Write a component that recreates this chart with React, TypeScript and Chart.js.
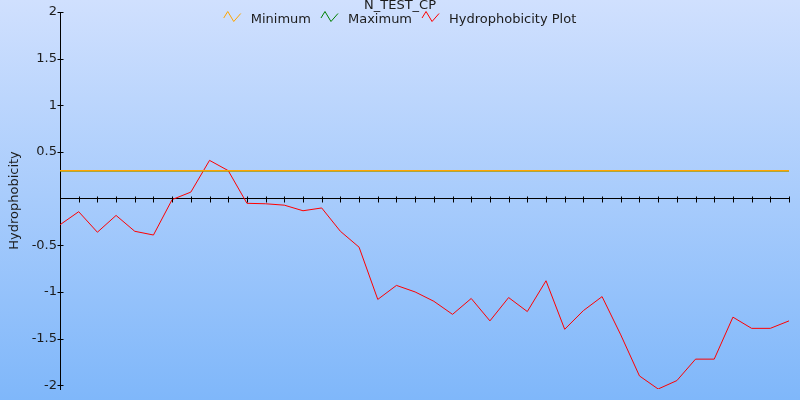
import React, { useEffect, useRef } from "react";
import { Chart, registerables } from "chart.js";

Chart.register(...registerables);

const chartTitle = "N_TEST_CP";
const yAxisTitle = "Hydrophobicity";

const categories = [
  "1", "2", "3", "4", "5", "6", "7", "8", "9", "10",
  "11", "12", "13", "14", "15", "16", "17", "18", "19", "20",
  "21", "22", "23", "24", "25", "26", "27", "28", "29", "30",
  "31", "32", "33", "34", "35", "36", "37", "38", "39", "40",
];

const hydrophobicity = [
  -0.28, -0.14, -0.36, -0.18, -0.35, -0.39, -0.01, 0.07, 0.41, 0.3,
  -0.05, -0.055, -0.07, -0.13, -0.1, -0.35, -0.52, -1.08, -0.93, -1.0,
  -1.1, -1.24, -1.07, -1.31, -1.06, -1.21, -0.88, -1.4, -1.2, -1.05,
  -1.46, -1.9, -2.04, -1.95, -1.72, -1.72, -1.27, -1.39, -1.39, -1.31,
];

const minimumValue = 0.3;
const maximumValue = 0.3;

const yTickValues = [-2, -1.5, -1, -0.5, 0.5, 1, 1.5, 2];
const yMin = -2.04;
const yMax = 2;

const TEXT_COLOR = "#1c1c1c";
const FONT_FAMILY = "'DejaVu Sans', Verdana, sans-serif";

const backgroundPlugin = {
  id: "gradientBackground",
  beforeDraw(chart: any) {
    const { ctx, width, height } = chart;
    const g = ctx.createLinearGradient(0, 0, 0, height);
    g.addColorStop(0, "#d0e0fe");
    g.addColorStop(1, "#7fb7fa");
    ctx.save();
    ctx.fillStyle = g;
    ctx.fillRect(0, 0, width, height);
    ctx.restore();
  },
};

const crossTicksPlugin = {
  id: "crossTicks",
  afterDraw(chart: any) {
    const { ctx } = chart;
    const xs = chart.scales.x;
    const ys = chart.scales.y;
    const half = 3;
    ctx.save();
    ctx.strokeStyle = "#000";
    ctx.lineWidth = 1;
    ctx.beginPath();
    const yZero = Math.round(ys.getPixelForValue(0)) + 0.5;
    for (let i = 0; i < xs.ticks.length; i++) {
      const px = Math.round(xs.getPixelForTick(i)) + 0.5;
      ctx.moveTo(px, yZero - half);
      ctx.lineTo(px, yZero + half);
    }
    const axisX = Math.round(ys.right) + 0.5;
    for (let i = 0; i < ys.ticks.length; i++) {
      const py = Math.round(ys.getPixelForTick(i)) + 0.5;
      ctx.moveTo(axisX - half, py);
      ctx.lineTo(axisX + half, py);
    }
    ctx.stroke();
    ctx.restore();
  },
};

const headerPlugin = {
  id: "headerLegend",
  afterDraw(chart: any) {
    const { ctx, width } = chart;
    ctx.save();
    ctx.font = `13px ${FONT_FAMILY}`;
    ctx.fillStyle = TEXT_COLOR;
    ctx.textBaseline = "alphabetic";
    ctx.textAlign = "center";
    ctx.fillText(chartTitle, width / 2, 9);

    const items = chart.data.datasets.map((ds: any) => ({
      label: ds.label as string,
      color: ds.borderColor as string,
    }));
    const iconW = 17;
    const gap = 10;
    const widths = items.map((it: any) => ctx.measureText(it.label).width);
    let total = 0;
    widths.forEach((w: number) => (total += iconW + gap + w));
    total += gap * (items.length - 1);
    let x = (width - total) / 2;
    const y0 = 11.5;
    ctx.textAlign = "left";
    items.forEach((it: any, i: number) => {
      ctx.strokeStyle = it.color;
      ctx.lineWidth = 1;
      ctx.beginPath();
      ctx.moveTo(x, y0 + 6.5);
      ctx.lineTo(x + 4, y0);
      ctx.lineTo(x + 10, y0 + 10);
      ctx.lineTo(x + iconW, y0 + 2);
      ctx.stroke();
      ctx.fillStyle = TEXT_COLOR;
      ctx.fillText(it.label, x + iconW + gap, 22.5);
      x += iconW + gap + widths[i] + gap;
    });
    ctx.restore();
  },
};

export default function App() {
  const canvasRef = useRef<HTMLCanvasElement | null>(null);

  useEffect(() => {
    if (!canvasRef.current) return;
    Chart.defaults.font.family = FONT_FAMILY;
    Chart.defaults.font.size = 13;
    Chart.defaults.color = TEXT_COLOR;

    const chart = new Chart(canvasRef.current, {
      type: "line",
      data: {
        labels: categories,
        datasets: [
          {
            label: "Minimum",
            data: categories.map(() => minimumValue),
            borderColor: "#ffa500",
            backgroundColor: "#ffa500",
            borderWidth: 1.5,
            pointRadius: 0,
            fill: false,
          },
          {
            label: "Maximum",
            data: categories.map(() => maximumValue),
            borderColor: "#008000",
            backgroundColor: "#008000",
            borderWidth: 1.5,
            pointRadius: 0,
            fill: false,
          },
          {
            label: "Hydrophobicity Plot",
            data: hydrophobicity,
            borderColor: "#ff0000",
            backgroundColor: "#ff0000",
            borderWidth: 1,
            pointRadius: 0,
            tension: 0,
            fill: false,
          },
        ],
      },
      options: {
        responsive: false,
        animation: false,
        devicePixelRatio: 1,
        layout: { padding: { top: 12, right: 11, bottom: 11, left: 0 } },
        plugins: {
          legend: { display: false },
          title: { display: false },
          tooltip: { enabled: false },
        },
        scales: {
          x: {
            type: "category",
            offset: false,
            position: { y: 0 } as any,
            ticks: { display: false },
            grid: { display: false, drawTicks: false },
            border: { display: true, color: "#000", width: 1 },
          },
          y: {
            type: "linear",
            min: yMin,
            max: yMax,
            afterBuildTicks: (scale: any) => {
              scale.ticks = yTickValues.map((v) => ({ value: v }));
            },
            afterFit: (scale: any) => {
              scale.width = 60;
            },
            ticks: {
              padding: 3,
              color: TEXT_COLOR,
              font: { size: 13 },
              callback: (v: any) => String(v),
            },
            grid: { display: false, drawTicks: false },
            border: { display: true, color: "#000", width: 1 },
            title: {
              display: true,
              text: yAxisTitle,
              color: TEXT_COLOR,
              font: { size: 13 },
              padding: { top: 7, bottom: 0 },
            },
          },
        },
      },
      plugins: [backgroundPlugin, crossTicksPlugin, headerPlugin],
    });
    return () => chart.destroy();
  }, []);

  return (
    <div style={{ position: "fixed", left: 0, top: 0, width: 800, height: 400 }}>
      <canvas ref={canvasRef} width={800} height={400} />
    </div>
  );
}
